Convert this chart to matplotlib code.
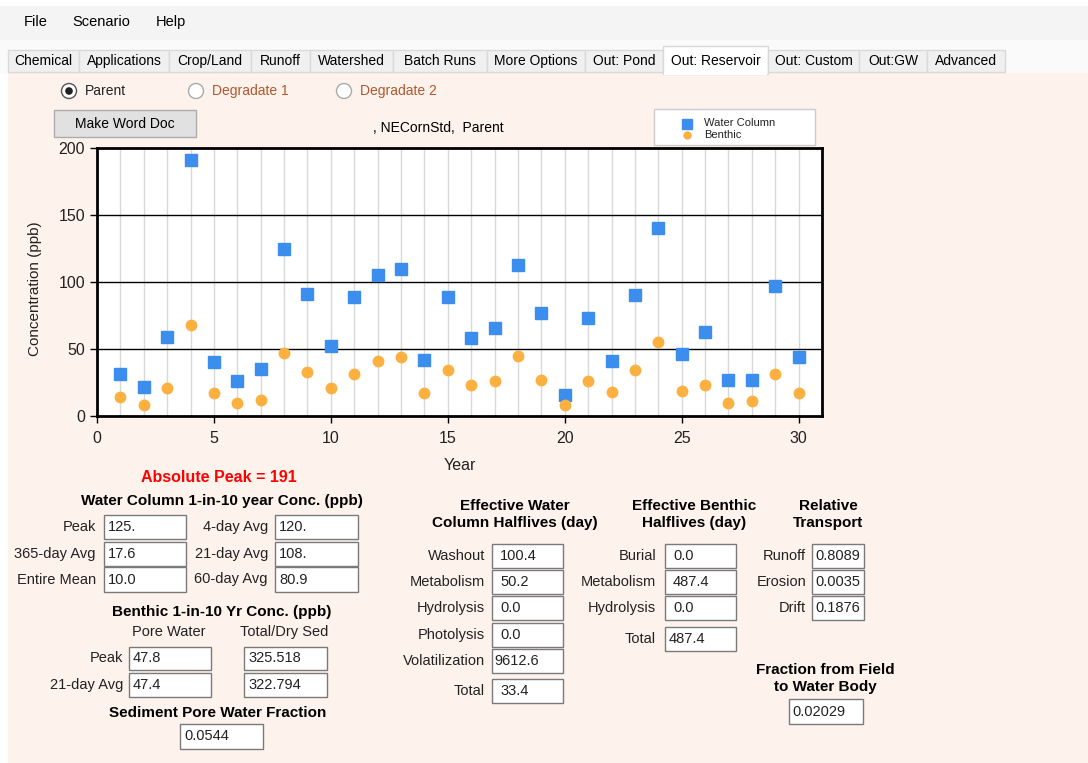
import matplotlib
matplotlib.use("Agg")
import matplotlib.pyplot as plt
from matplotlib.patches import Rectangle, Circle

plt.rcParams['font.family'] = ['Liberation Sans', 'DejaVu Sans']

# data
years = list(range(1, 31))
water_column = [31, 22, 59, 191, 40, 26, 35, 125, 91, 52,
                 89, 105, 110, 42, 89, 58, 66, 113, 77, 16,
                 73, 41, 90, 140, 46, 63, 27, 27, 97, 44]
benthic = [14, 8, 21, 68, 17, 10, 12, 47, 33, 21,
           31, 41, 44, 17, 34, 23, 26, 45, 27, 8,
           26, 18, 34, 55, 19, 23, 10, 11, 31, 17]

tabs = ["Chemical", "Applications", "Crop/Land", "Runoff", "Watershed", "Batch Runs",
        "More Options", "Out: Pond", "Out: Reservoir", "Out: Custom", "Out:GW", "Advanced"]
tab_edges = [8, 79, 169, 251, 310, 393, 487, 585, 663, 768, 859, 927, 1005]

wc_left = [("Peak", "125."), ("365-day Avg", "17.6"), ("Entire Mean", "10.0")]
wc_right = [("4-day Avg", "120."), ("21-day Avg", "108."), ("60-day Avg", "80.9")]
benthic_rows = [("Peak", "47.8", "325.518"), ("21-day Avg", "47.4", "322.794")]
wc_half = [("Washout", "100.4"), ("Metabolism", "50.2"), ("Hydrolysis", "0.0"),
           ("Photolysis", "0.0"), ("Volatilization", "9612.6"), ("Total", "33.4")]
ben_half = [("Burial", "0.0"), ("Metabolism", "487.4"), ("Hydrolysis", "0.0"), ("Total", "487.4")]
transport = [("Runoff", "0.8089"), ("Erosion", "0.0035"), ("Drift", "0.1876")]

PEACH = "#fdf2ec"
BLUE = "#3b8eed"
ORANGE = "#fbb03f"
BOLD = 11

fig = plt.figure(figsize=(10.88, 7.63), dpi=100)
fig.patch.set_facecolor("white")

# gui layer in pixel coordinates
g = fig.add_axes([0, 0, 1, 1])
g.set_xlim(0, 1088)
g.set_ylim(763, 0)
g.axis("off")

def rect(x0, y0, x1, y1, fc, ec="none", lw=1.0):
    g.add_patch(Rectangle((x0, y0), x1 - x0, y1 - y0, facecolor=fc, edgecolor=ec, lw=lw))

def box(x0, y0, x1, y1, value, pad=4):
    rect(x0, y0, x1, y1, "white", "#7a7a7a", 1.0)
    g.text(x0 + pad, (y0 + y1) / 2, value, fontsize=10.5, ha="left", va="center", color="#222222")

def label(x, y, s, **kw):
    kw.setdefault("fontsize", 10.5)
    kw.setdefault("color", "#222222")
    g.text(x, y, s, va="center", **kw)

def header(x, y, s):
    label(x, y, s, fontsize=BOLD, ha="center", fontweight="bold", color="black")

# menu bar and tabs
rect(0, 6, 1088, 40, "#f4f4f4")
for x, s in [(24, "File"), (72, "Scenario"), (156, "Help")]:
    label(x, 22, s, fontsize=10.5, ha="left", color="black")
rect(0, 40, 1088, 74, "#fafafa")
rect(8, 73, 1088, 763, PEACH)
for i, name in enumerate(tabs):
    x0, x1 = tab_edges[i], tab_edges[i + 1]
    if name == "Out: Reservoir":
        rect(x0, 46, x1, 74, "white", "#d9d9d9")
    else:
        rect(x0, 50, x1, 72, "#f0f0f0", "#d9d9d9")
    label((x0 + x1) / 2, 61, name, fontsize=10, ha="center", color="black")
rect(664, 72, 767, 75, "white")

# radio buttons
for cx, s, col, sel in [(69, "Parent", "#222222", True), (196, "Degradate 1", "#b5562b", False),
                        (344, "Degradate 2", "#b5562b", False)]:
    g.add_patch(Circle((cx, 91), 7.5, facecolor="white", edgecolor="#555555" if sel else "#aaaaaa", lw=1))
    if sel:
        g.add_patch(Circle((cx, 91), 3.8, facecolor="#222222", edgecolor="none"))
    label(cx + 16, 91, s, fontsize=10, ha="left", color=col)

# button
rect(54, 110, 196, 137, "#e1e1e1", "#adadad")
label(125, 124, "Make Word Doc", fontsize=10, ha="center", color="black")

# chart title and legend
label(438, 128, ", NECornStd,  Parent", fontsize=10, ha="center", color="black")
rect(654, 109, 815, 145, "white", "#cccccc")
g.plot([687], [124], "s", color=BLUE, ms=6.5)
g.plot([687], [135], "o", color=ORANGE, ms=5)
label(704, 123, "Water Column", fontsize=8, ha="left")
label(704, 135, "Benthic", fontsize=8, ha="left")

# axis labels
label(35, 289, "Concentration (ppb)", fontsize=11, ha="center", rotation=90)
label(460, 466, "Year", fontsize=11.5, ha="center")

# lower panel
label(219, 478, "Absolute Peak = 191", fontsize=11.5, ha="center", color="#ff0000", fontweight="bold")
header(222, 501, "Water Column 1-in-10 year Conc. (ppb)")
rows_y = [(515, 539), (542, 566), (567, 592)]
for (y0, y1), (n, v) in zip(rows_y, wc_left):
    label(96, (y0 + y1) / 2, n, ha="right")
    box(104, y0, 186, y1, v)
for (y0, y1), (n, v) in zip(rows_y, wc_right):
    label(268, (y0 + y1) / 2, n, ha="right")
    box(275, y0, 358, y1, v)

header(222, 612, "Benthic 1-in-10 Yr Conc. (ppb)")
label(169, 632, "Pore Water", ha="center")
label(284, 632, "Total/Dry Sed", ha="center")
for (y0, y1), (n, v1, v2) in zip([(647, 670), (673, 697)], benthic_rows):
    label(123, (y0 + y1) / 2, n, ha="right")
    box(129, y0, 211, y1, v1)
    box(244, y0, 327, y1, v2)
header(218, 713, "Sediment Pore Water Fraction")
box(180, 724, 263, 749, "0.0544")

header(515, 506, "Effective Water")
header(515, 523, "Column Halflives (day)")
half_y = [(544, 568), (570, 594), (596, 620), (623, 647), (649, 673), (679, 703)]
for (y0, y1), (n, v) in zip(half_y, wc_half):
    label(485, (y0 + y1) / 2, n, ha="right")
    box(492, y0, 563, y1, v, pad=8 if len(v) < 6 else 2)

header(694, 506, "Effective Benthic")
header(694, 523, "Halflives (day)")
ben_y = [(544, 568), (570, 594), (596, 620), (627, 651)]
for (y0, y1), (n, v) in zip(ben_y, ben_half):
    label(656, (y0 + y1) / 2, n, ha="right")
    box(665, y0, 736, y1, v, pad=8 if n != "Total" else 4)

header(828, 506, "Relative")
header(828, 523, "Transport")
for (y0, y1), (n, v) in zip(half_y[:3], transport):
    label(806, (y0 + y1) / 2, n, ha="right")
    box(812, y0, 864, y1, v, pad=3)

header(825, 670, "Fraction from Field")
header(825, 687, "to Water Body")
box(789, 699, 863, 724, "0.02029", pad=3)

# the chart itself
ax = fig.add_axes([97 / 1088, 1 - 416 / 763, 725 / 1088, 268 / 763])
ax.set_facecolor("white")
for yr in years:
    ax.axvline(yr, color="#d8d8d8", lw=1, zorder=1)
for yv in [50, 100, 150]:
    ax.axhline(yv, color="black", lw=1, zorder=1)
ax.plot(years, water_column, "s", color=BLUE, ms=8, zorder=3, label="Water Column")
ax.plot(years, benthic, "o", color=ORANGE, ms=7.5, zorder=3, label="Benthic")
ax.set_xlim(0, 31)
ax.set_ylim(0, 200)
ax.set_xticks([0, 5, 10, 15, 20, 25, 30])
ax.set_yticks([0, 50, 100, 150, 200])
ax.tick_params(axis="both", labelsize=11.5, labelcolor="#222222", length=5, width=1, direction="out")
ax.tick_params(axis="x", pad=6)
for sp in ax.spines.values():
    sp.set_linewidth(2)
    sp.set_color("black")

fig.savefig("out.png", dpi=100, facecolor=fig.get_facecolor())
